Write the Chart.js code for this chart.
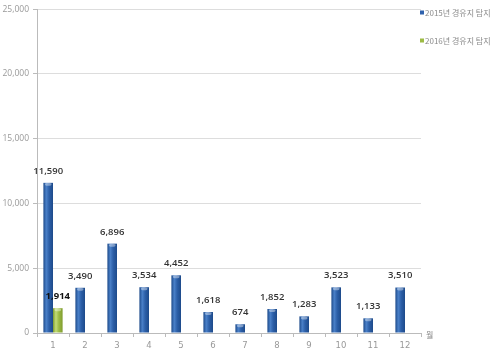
<!DOCTYPE html>
<html><head><meta charset="utf-8">
<script src="https://cdn.jsdelivr.net/npm/chart.js@4"></script>
<style>html,body{margin:0;padding:0;background:#fff}#w{width:500px;height:355px}</style>
</head><body><div id="w"><canvas id="c"></canvas></div>
<script>
const categories = ['1','2','3','4','5','6','7','8','9','10','11','12'];
const series2015 = [11590,3490,6896,3534,4452,1618,674,1852,1283,3523,1133,3510];
const series2016 = [1914,null,null,null,null,null,null,null,null,null,null,null];
const seriesNames = ['2015년 경유지 탐지','2016년 경유지 탐지'];
const yTicks = [0,5000,10000,15000,20000,25000];
const axisUnit = '월';

const barColors = [
  {edge:'#1d4a8a', mid:'#4a80c8', base:'#2c5fa8'},
  {edge:'#7f9c2e', mid:'#c2dc77', base:'#9dbb45'}
];

const fmt = v => v.toLocaleString('en-US');

const overlay = {
  id:'overlay',
  afterDatasetsDraw(chart){
    const c = chart.ctx;
    chart.data.datasets.forEach((ds,di)=>{
      const meta = chart.getDatasetMeta(di);
      const col = barColors[di];
      meta.data.forEach((el,i)=>{
        if(ds.data[i]==null) return;
        const w = el.width, x0 = el.x - w/2, top = el.y, bot = el.base;
        const g = c.createLinearGradient(x0,0,x0+w,0);
        g.addColorStop(0,col.edge);
        g.addColorStop(0.3,col.mid);
        g.addColorStop(0.6,col.base);
        g.addColorStop(1,col.edge);
        c.save();
        c.fillStyle = g;
        c.fillRect(x0,top,w,bot-top);
        c.fillStyle = 'rgba(255,255,255,0.4)';
        c.beginPath();
        c.ellipse(el.x, top+1.5, w/2-1.5, 1.5, 0, 0, Math.PI*2);
        c.fill();
        c.restore();
      });
    });
    c.save();
    c.textAlign='center';
    c.textBaseline='bottom';
    chart.data.datasets.forEach((ds,di)=>{
      const meta = chart.getDatasetMeta(di);
      meta.data.forEach((el,i)=>{
        const v = ds.data[i];
        if(v==null) return;
        c.font = (di===1?'bold ':'600 ') + '9.5px "Open Sans", sans-serif';
        c.fillStyle = di===1 ? '#111' : '#333';
        c.fillText(fmt(v), el.x, el.y - 7);
      });
    });
    c.restore();
  },
  afterDraw(chart){
    const c = chart.ctx, a = chart.chartArea;
    c.save();
    c.font = '8px "Noto Sans CJK KR", sans-serif';
    c.fillStyle = '#888';
    c.textAlign='left'; c.textBaseline='middle';
    c.fillText(axisUnit, a.right+5, a.bottom+2);
    const lx = a.right - 1;
    const items = [{y:13,col:'#2f62ad'},{y:41,col:'#9dbb45'}];
    items.forEach((it,k)=>{
      c.fillStyle = it.col;
      c.fillRect(lx, it.y-2.5, 4, 4);
      c.fillStyle = '#8a8a8a';
      c.font = '8px "Noto Sans CJK KR", sans-serif';
      c.fillText(seriesNames[k], lx+5, it.y);
    });
    c.restore();
  }
};

new Chart(document.getElementById('c'),{
  type:'bar',
  data:{
    labels:categories,
    datasets:[
      {label:seriesNames[0], data:series2015, backgroundColor:'rgba(0,0,0,0)', borderWidth:0},
      {label:seriesNames[1], data:series2016, backgroundColor:'rgba(0,0,0,0)', borderWidth:0}
    ]
  },
  options:{
    responsive:true, maintainAspectRatio:false, animation:false,
    layout:{padding:{top:8,right:79,left:0,bottom:0}},
    plugins:{legend:{display:false},tooltip:{enabled:false}},
    datasets:{bar:{categoryPercentage:0.6,barPercentage:1.0}},
    scales:{
      x:{
        grid:{display:true, drawOnChartArea:false, drawTicks:true, tickLength:4, color:'#bbb', offset:true},
        border:{color:'#bbb'},
        ticks:{color:'#999', font:{size:8.5, family:'"DejaVu Sans", sans-serif'}, padding:4, maxRotation:0},
        afterFit(s){ s.height = 22; }
      },
      y:{
        min:0, max:25000,
        afterBuildTicks(s){ s.ticks = yTicks.map(v=>({value:v})); },
        grid:{color:'#ddd', drawTicks:true, tickLength:4, tickColor:'#bbb'},
        border:{color:'#bbb'},
        ticks:{color:'#999', font:{size:8.5, family:'"Open Sans", sans-serif'}, padding:4, callback:v=>fmt(v)},
        afterFit(s){ s.width = 37; }
      }
    }
  },
  plugins:[overlay]
});
</script>
</body></html>
